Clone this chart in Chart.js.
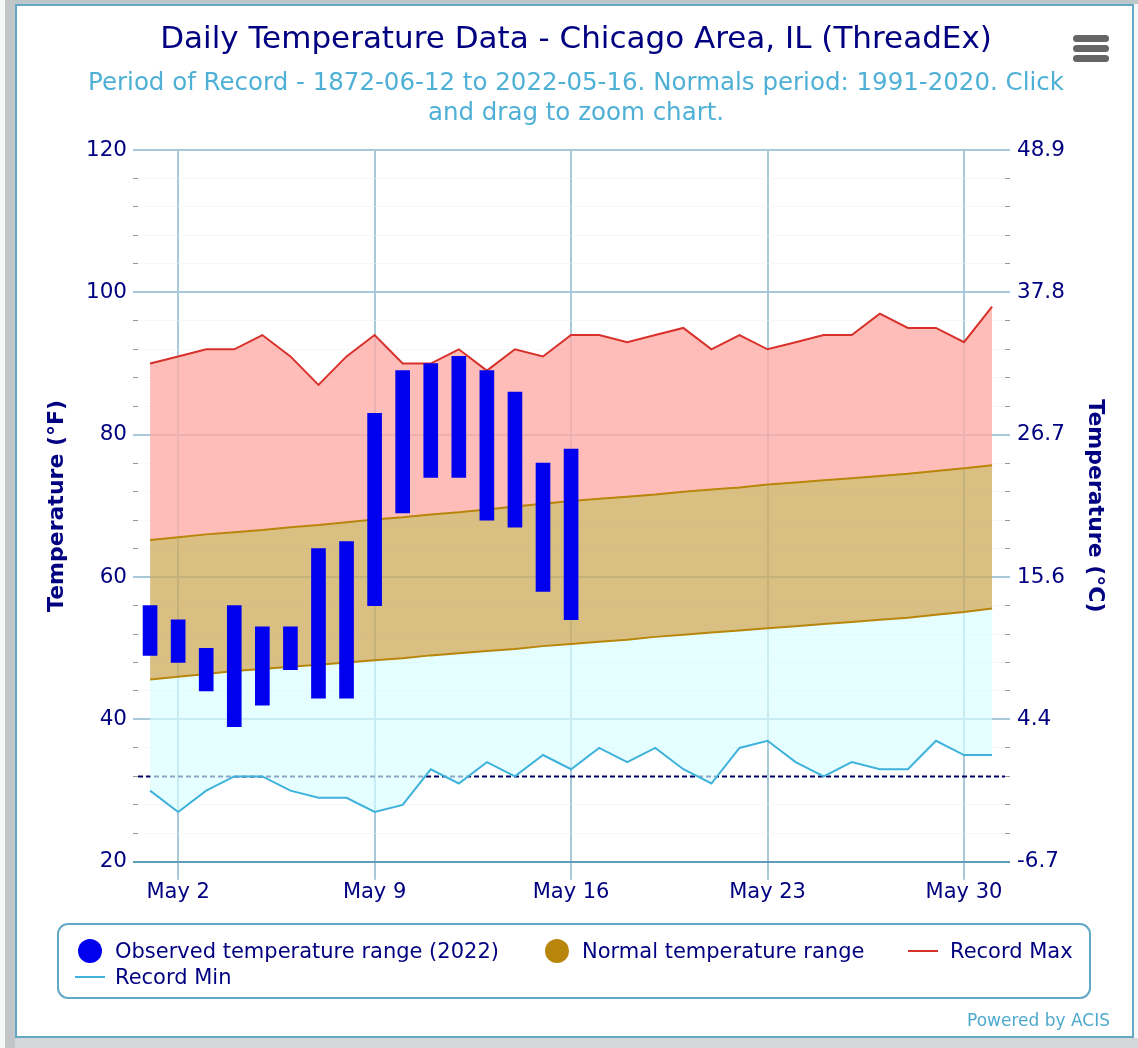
<!DOCTYPE html>
<html><head><meta charset="utf-8">
<script src="https://cdn.jsdelivr.net/npm/chart.js@4/dist/chart.umd.js"></script>
<style>
html,body{margin:0;padding:0;background:#f6f7f7;width:1138px;height:1048px;overflow:hidden;font-family:"DejaVu Sans",sans-serif}
#top{position:absolute;left:5px;top:0;width:1133px;height:4px;background:#bcc6cb}
#bottom{position:absolute;left:5px;top:1038px;width:1133px;height:10px;background:#d5d8da}
#leftstrip{position:absolute;left:5px;top:0;width:10px;height:1048px;background:#c2c6c9}
#card{position:absolute;left:15px;top:4px;width:1115px;height:1030px;background:#fff;border:2px solid #64a8c6}
canvas{position:absolute;left:0;top:0}
#legend{position:absolute;left:57px;top:923px;width:1030px;height:72px;border:2px solid #64a8c6;border-radius:11px;color:#000080;font-size:21px}
.it{position:absolute;white-space:nowrap;line-height:26px}
.dot{position:absolute;width:24px;height:24px;border-radius:50%}
.ln{position:absolute;width:30px;height:2px}
#credit{position:absolute;left:967px;top:1010px;color:#4fa9cf;font-size:17px;white-space:nowrap}
.bar{position:absolute;left:1073px;width:36px;height:7px;border-radius:4px;background:#666}
</style></head><body>
<div id="top"></div><div id="bottom"></div><div id="leftstrip"></div><div id="card"></div>
<canvas id="c" width="1138" height="1048"></canvas>
<div class="bar" style="top:35px"></div><div class="bar" style="top:45px"></div><div class="bar" style="top:55px"></div>
<div id="legend"></div>
<div id="credit">Powered by ACIS</div>
<script>
const titleText = "Daily Temperature Data - Chicago Area, IL (ThreadEx)";
const subtitleLines = ["Period of Record - 1872-06-12 to 2022-05-16. Normals period: 1991-2020. Click","and drag to zoom chart."];
const days = [1,2,3,4,5,6,7,8,9,10,11,12,13,14,15,16,17,18,19,20,21,22,23,24,25,26,27,28,29,30,31];
const recordMax = [90,91,92,92,94,91,87,91,94,90,90,92,89,92,91,94,94,93,94,95,92,94,92,93,94,94,97,95,95,93,98];
const recordMin = [30,27,30,32,32,30,29,29,27,28,33,31,34,32,35,33,36,34,36,33,31,36,37,34,32,34,33,33,37,35,35];
const normalHigh = [65.2,65.6,66.0,66.3,66.6,67.0,67.3,67.7,68.1,68.4,68.8,69.1,69.5,69.9,70.3,70.7,71.0,71.3,71.6,72.0,72.3,72.6,73.0,73.3,73.6,73.9,74.2,74.5,74.9,75.3,75.7];
const normalLow = [45.6,46.0,46.4,46.8,47.1,47.4,47.7,48.0,48.3,48.6,49.0,49.3,49.6,49.9,50.3,50.6,50.9,51.2,51.6,51.9,52.2,52.5,52.8,53.1,53.4,53.7,54.0,54.3,54.7,55.1,55.6];
const observedDays = [1,2,3,4,5,6,7,8,9,10,11,12,13,14,15,16];
const observedLow = [49,48,44,39,42,47,43,43,56,69,74,74,68,67,58,54];
const observedHigh = [56,54,50,56,53,53,64,65,83,89,90,91,89,86,76,78];
const xTickDays = [2,9,16,23,30];
const freezingDays = [0.57,31.46];
const freezingValues = [32,32];
const legendLabels = ["Observed temperature range (2022)","Normal temperature range","Record Max","Record Min"];

const navy = "#000080", font = '"DejaVu Sans", sans-serif';
const pts = (xs, ys) => xs.map((x,i)=>({x, y:ys[i]}));
const grid = "#a9c9da", minorTick = "#9a9a9a", axisLine = "#5e9db8";
const yGrid = c => c.tick.value===20 ? "rgba(0,0,0,0)" : c.tick.value%20===0 ? grid : "rgba(235,242,246,0.5)";
const yTick = c => c.tick.value===20 ? axisLine : c.tick.value%20===0 ? grid : minorTick;
new Chart(document.getElementById("c"), {
  type:"line",
  data:{datasets:[
    {type:"bar",label:legendLabels[0],data:observedDays.map((d,i)=>({x:d,y:[observedLow[i],observedHigh[i]]})),backgroundColor:"#0000ee",barThickness:14,order:0},
    {label:legendLabels[1],data:pts(days,normalHigh),borderColor:"#b8860b",borderWidth:2,pointRadius:0,fill:{target:2},backgroundColor:"rgba(205,170,90,0.75)",order:2},
    {label:"Normal low",data:pts(days,normalLow),borderColor:"#b8860b",borderWidth:2,pointRadius:0,fill:false,order:1},
    {label:legendLabels[2],data:pts(days,recordMax),borderColor:"#d8302a",borderWidth:2,pointRadius:0,fill:{target:1},backgroundColor:"rgba(255,170,165,0.78)",order:3},
    {label:legendLabels[3],data:pts(days,recordMin),borderColor:"#3fb2dc",borderWidth:2,pointRadius:0,fill:{target:2},backgroundColor:"rgba(215,253,255,0.66)",order:4},
    {label:"Freezing",data:pts(freezingDays,freezingValues),borderColor:"#000060",borderWidth:2,borderDash:[5,3],pointRadius:0,fill:false,order:9}
  ]},
  options:{
    responsive:false,animation:false,devicePixelRatio:1,
    layout:{padding:{left:44,right:30,top:21,bottom:143}},
    plugins:{
      legend:{display:false},tooltip:{enabled:false},
      title:{display:true,text:titleText,color:navy,font:{family:font,size:31,weight:"normal"},padding:{top:0,bottom:11}},
      subtitle:{display:true,text:subtitleLines,color:"#4fb0d6",font:{family:font,size:24.5,weight:"normal"},padding:{top:0,bottom:22}}
    },
    scales:{
      x:{type:"linear",min:0.57,max:31.46,offset:false,
        afterBuildTicks:s=>{s.ticks=xTickDays.map(v=>({value:v}));},
        grid:{color:grid,tickColor:grid,tickLength:18,offset:false,lineWidth:2},
        border:{color:axisLine,width:2},
        ticks:{color:navy,font:{family:font,size:21},padding:0,maxRotation:0,autoSkip:false,callback:v=>"May "+v}},
      y:{type:"linear",position:"left",min:20,max:120,afterFit:s=>{s.width=94;},
        grid:{color:yGrid,tickColor:yTick,tickLength:5,lineWidth:c=>c.tick.value%20===0?2:1},
        border:{display:false},
        title:{display:true,text:"Temperature (°F)",color:navy,font:{family:font,size:22,weight:"bold"},padding:0},
        ticks:{stepSize:4,autoSkip:false,color:navy,padding:6,font:{family:font,size:21.5},callback:v=>v%20===0?String(v):""}},
      y2:{type:"linear",position:"right",min:20,max:120,afterFit:s=>{s.width=103;},
        grid:{drawOnChartArea:false,color:yTick,tickColor:yTick,tickLength:5,lineWidth:c=>c.tick.value%20===0?2:1},
        border:{display:false},
        title:{display:true,text:"Temperature (°C)",color:navy,font:{family:font,size:22,weight:"bold"},padding:0},
        ticks:{stepSize:4,autoSkip:false,color:navy,padding:7,font:{family:font,size:21.5},callback:v=>v%20===0?((v-32)*5/9).toFixed(1):""}}
    }
  }
});
const leg = document.getElementById("legend");
[["dot","#0000ee",19,14,56,13],["dot","#b8860b",486,14,523,13],["ln","#d8302a",849,25,891,13],["ln","#3fb2dc",16,51,56,39]].forEach((m,i)=>{
  const k=document.createElement("div");k.className=m[0];k.style.background=m[1];k.style.left=m[2]+"px";k.style.top=m[3]+"px";leg.appendChild(k);
  const t=document.createElement("div");t.className="it";t.textContent=legendLabels[i];t.style.left=m[4]+"px";t.style.top=m[5]+"px";leg.appendChild(t);
});
</script></body></html>
